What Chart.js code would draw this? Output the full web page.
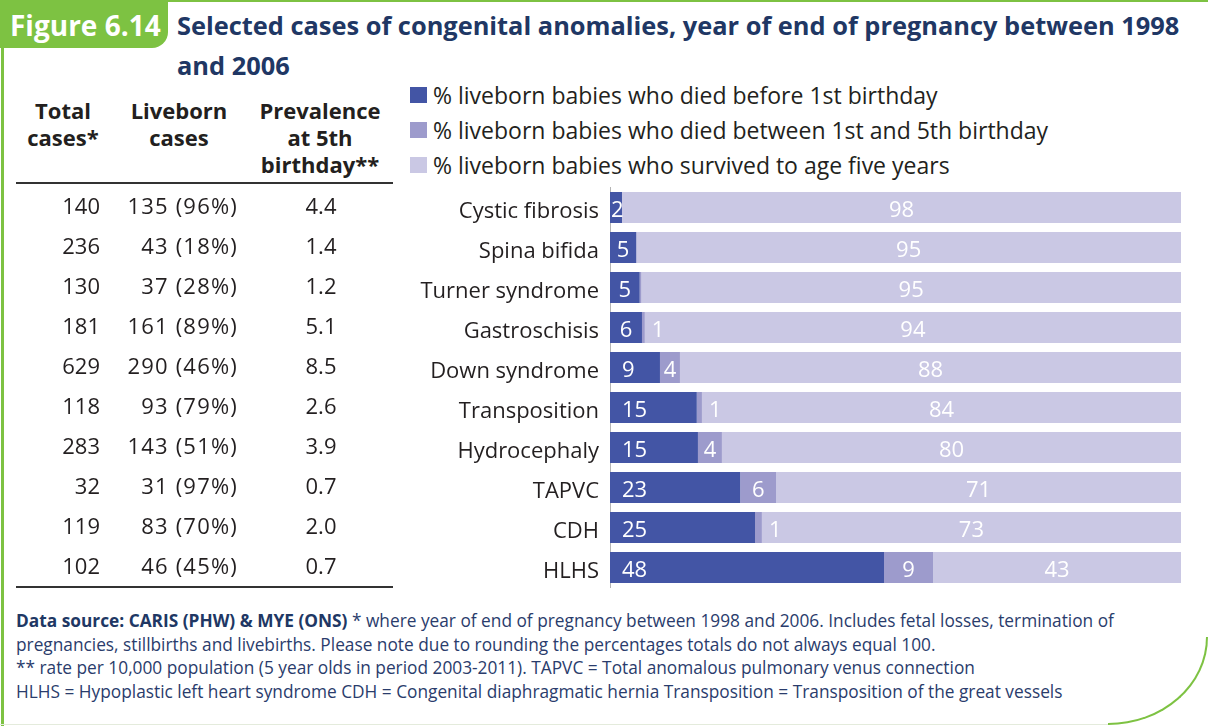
<!DOCTYPE html>
<html>
<head>
<meta charset="utf-8">
<script src="https://cdn.jsdelivr.net/npm/chart.js@4.4.1/dist/chart.umd.min.js"></script>
<style>
  html, body { margin: 0; padding: 0; background: #fff; }
  body { width: 1208px; height: 726px; position: relative; overflow: hidden; font-family: "Open Sans", sans-serif; color: #231f20; }
  .abs { position: absolute; }
  #frameTop { left: 0; top: 0; width: 1208px; height: 2px; background: #7dc242; }
  #frameLeft { left: 1px; top: 0; width: 3px; height: 726px; background: #7dc242; }
  #frameBottom { left: 0; top: 724px; width: 1110px; height: 1px; background: #e4ebdc; }
  #frameCorner { right: 0; bottom: 1px; width: 100px; height: 88px; box-sizing: border-box;
    border-right: 2px solid #7dc242; border-bottom: 2px solid #7dc242; border-bottom-right-radius: 100px 88px; }
  #tab { left: 0; top: 0; width: 168px; height: 48px; background: #7dc242; border-bottom-right-radius: 16px; }
  #tab span { position: absolute; left: 10px; top: 11px; color: #fff; font-weight: 700; font-size: 28px; line-height: 1; white-space: nowrap; }
  #title { left: 177px; top: 5px; font-weight: 700; font-size: 25.4px; line-height: 40px; color: #203764; white-space: nowrap; }
  .th { top: 97px; width: 150px; text-align: center; font-weight: 700; font-size: 22px; line-height: 27px; }
  .rule { left: 16px; width: 377px; height: 2px; background: #333; }
  #legend { left: 410px; top: 77px; font-size: 23px; }
  .lg { height: 35px; display: flex; align-items: center; white-space: nowrap; }
  .lg i { display: inline-block; width: 17px; height: 16px; margin-right: 6px; }
  #note { left: 16px; top: 609px; font-size: 17.3px; line-height: 23.5px; color: #2a3c6c; white-space: nowrap; }
  #note b { color: #203764; }
  #chart { position: absolute; left: 0; top: 0; }
</style>
</head>
<body>
<div class="abs" id="frameTop"></div>
<div class="abs" id="frameLeft"></div>
<div class="abs" id="frameBottom"></div>
<div class="abs" id="frameCorner"></div>
<div class="abs" id="tab"><span>Figure 6.14</span></div>
<div class="abs" id="title">Selected cases of congenital anomalies, year of end of pregnancy between 1998<br>and 2006</div>

<div class="abs th" style="left:-12px">Total<br>cases*</div>
<div class="abs th" style="left:104px">Liveborn<br>cases</div>
<div class="abs th" style="left:245px">Prevalence<br>at 5th<br>birthday**</div>
<div class="abs rule" style="top:182px"></div>
<div class="abs rule" style="top:586px"></div>

<div class="abs" id="legend"></div>

<div class="abs" id="note"><b>Data source: CARIS (PHW) &amp; MYE (ONS)</b> * where year of end of pregnancy between 1998 and 2006. Includes fetal losses, termination of<br>pregnancies, stillbirths and livebirths. Please note due to rounding the percentages totals do not always equal 100.<br>** rate per 10,000 population (5 year olds in period 2003-2011). TAPVC = Total anomalous pulmonary venus connection<br>HLHS = Hypoplastic left heart syndrome CDH = Congenital diaphragmatic hernia Transposition = Transposition of the great vessels</div>

<canvas id="chart" width="1208" height="726"></canvas>

<script>
var categories = ['Cystic fibrosis', 'Spina bifida', 'Turner syndrome', 'Gastroschisis', 'Down syndrome',
  'Transposition', 'Hydrocephaly', 'TAPVC', 'CDH', 'HLHS'];

// % of liveborn babies
var diedBefore1 = [2.1, 4.6, 5.2, 5.6, 8.75, 15.2, 15.4, 22.8, 25.4, 48.0];
var died1to5 = [0, 0, 0.3, 0.5, 3.5, 0.9, 4.2, 6.3, 1.2, 8.6];
var survived5 = [97.9, 95.4, 94.5, 93.9, 87.75, 83.9, 80.4, 70.9, 73.4, 43.4];

var seriesNames = [
  '% liveborn babies who died before 1st birthday',
  '% liveborn babies who died between 1st and 5th birthday',
  '% liveborn babies who survived to age five years'
];
var seriesColors = ['#4355a5', '#9d9bcc', '#cac8e4'];

// side table
var totalCases = [140, 236, 130, 181, 629, 118, 283, 32, 119, 102];
var livebornCases = [135, 43, 37, 161, 290, 93, 143, 31, 83, 46];
var livebornPct = [96, 18, 28, 89, 46, 79, 51, 97, 70, 45];
var prevalence = ['4.4', '1.4', '1.2', '5.1', '8.5', '2.6', '3.9', '0.7', '2.0', '0.7'];

var FONT = '"Open Sans", sans-serif';

// legend
var legendEl = document.getElementById('legend');
seriesNames.forEach(function(name, i) {
  var row = document.createElement('div');
  row.className = 'lg';
  row.innerHTML = '<i style="background:' + seriesColors[i] + '"></i>' + name;
  legendEl.appendChild(row);
});

var barLabels = {
  id: 'barLabels',
  afterDatasetsDraw: function(chart) {
    var ctx = chart.ctx;
    ctx.save();
    ctx.font = '22px ' + FONT;
    ctx.fillStyle = '#fff';
    chart.data.datasets.forEach(function(ds, di) {
      chart.getDatasetMeta(di).data.forEach(function(bar, i) {
        var txt = String(Math.round(ds.data[i]));
        if (txt === '0') return;
        var x0 = Math.min(bar.base, bar.x), x1 = Math.max(bar.base, bar.x);
        var w = x1 - x0, tw = ctx.measureText(txt).width;
        var x;
        if (di === 0) {
          ctx.textAlign = 'left';
          x = x0 + Math.max(1, Math.min(12, (w - tw) / 2));
        } else if (w < tw + 4) {
          ctx.textAlign = 'left';
          x = x1 + 7;
        } else {
          ctx.textAlign = 'center';
          x = (x0 + x1) / 2;
        }
        ctx.fillText(txt, x, bar.y + 9.5);
      });
    });
    ctx.restore();
  }
};

var sideTable = {
  id: 'sideTable',
  afterDraw: function(chart) {
    var ctx = chart.ctx, y = chart.scales.y;
    ctx.save();
    ctx.font = '22px ' + FONT;
    ctx.fillStyle = '#231f20';
    categories.forEach(function(c, i) {
      var py = y.getPixelForValue(i) + 6;
      ctx.textAlign = 'right';
      ctx.letterSpacing = '0px';
      ctx.fillText(String(totalCases[i]), 100, py);
      ctx.letterSpacing = '1.2px';
      ctx.fillText(livebornCases[i] + ' (' + livebornPct[i] + '%)', 238, py);
      ctx.letterSpacing = '0px';
      ctx.textAlign = 'center';
      ctx.fillText(prevalence[i], 321, py);
    });
    ctx.restore();
  }
};

var chart = new Chart(document.getElementById('chart').getContext('2d'), {
  type: 'bar',
  data: {
    labels: categories,
    datasets: [
      { label: seriesNames[0], data: diedBefore1, backgroundColor: seriesColors[0] },
      { label: seriesNames[1], data: died1to5, backgroundColor: seriesColors[1] },
      { label: seriesNames[2], data: survived5, backgroundColor: seriesColors[2] }
    ]
  },
  options: {
    indexAxis: 'y',
    responsive: false,
    animation: false,
    events: [],
    layout: { padding: { left: 0, top: 187.5, right: 27, bottom: 138.5 } },
    datasets: { bar: { barPercentage: 0.78, categoryPercentage: 1, borderWidth: 0 } },
    plugins: { legend: { display: false }, tooltip: { enabled: false } },
    scales: {
      x: { display: false, stacked: true, min: 0, max: 100 },
      y: {
        stacked: true,
        grid: { display: false, drawTicks: false },
        border: { display: true, color: '#b4b4b4', width: 1 },
        ticks: { color: '#231f20', padding: 11, labelOffset: 4, font: { family: FONT, size: 22 } },
        afterFit: function(scale) { scale.width = 610; }
      }
    }
  },
  plugins: [barLabels, sideTable]
});
</script>
</body>
</html>
